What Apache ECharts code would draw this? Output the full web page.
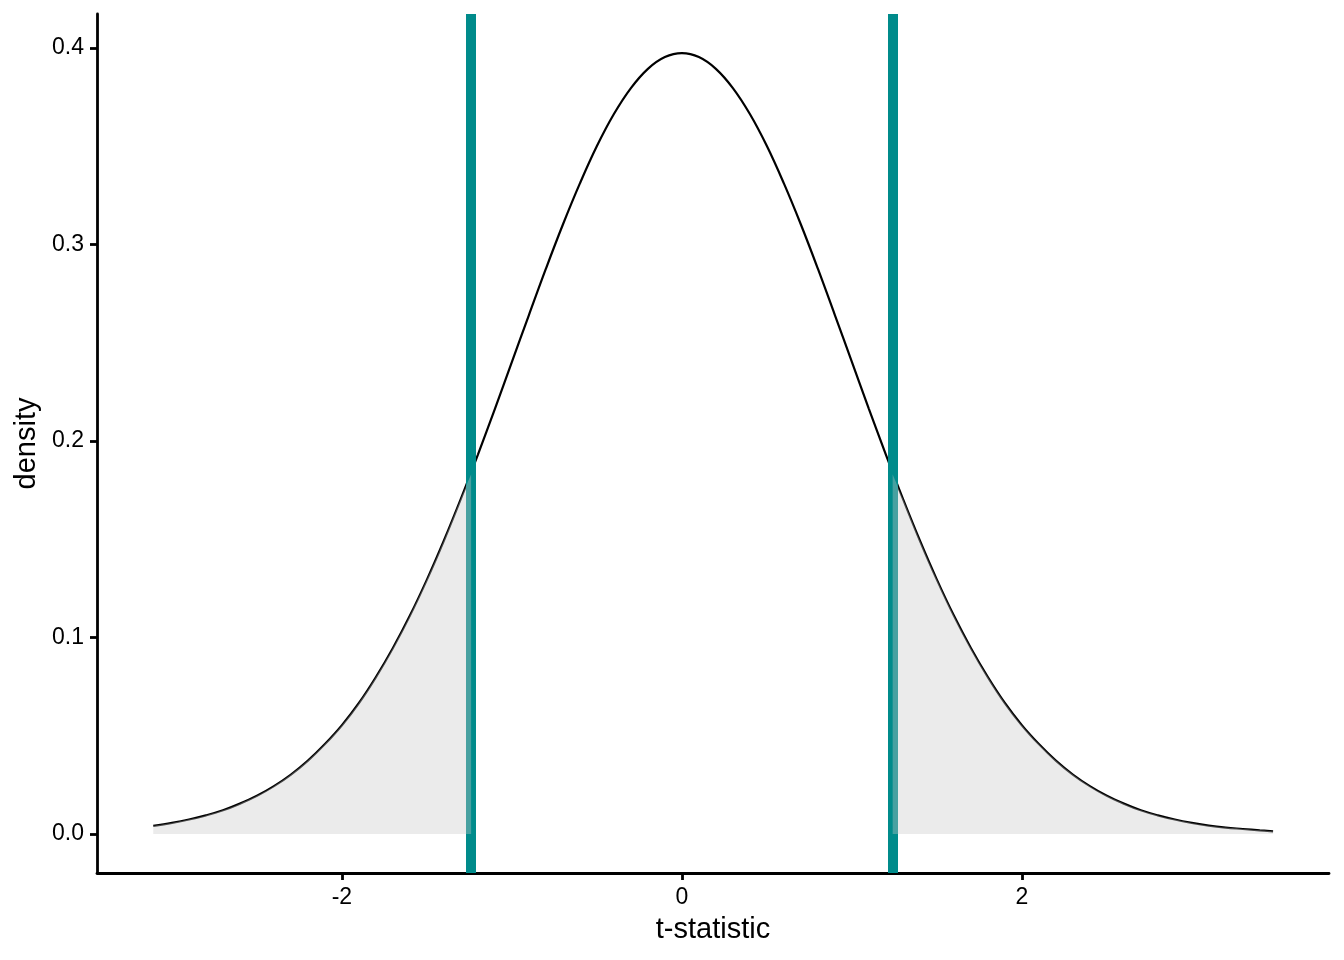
<!DOCTYPE html>
<html>
<head>
<meta charset="utf-8">
<script src="https://cdn.jsdelivr.net/npm/echarts@6/dist/echarts.min.js"></script>
<style>
html,body{margin:0;padding:0;background:#fff;}
#chart{width:1344px;height:960px;}
</style>
</head>
<body>
<div id="chart"></div>
<script>
// t-statistic grid and density values
var tStat = [-3.11,-3.0,-2.9,-2.8,-2.7,-2.6,-2.5,-2.4,-2.3,-2.2,-2.1,-2.0,-1.9,-1.8,-1.7,-1.6,-1.5,-1.4,-1.3,-1.2,-1.1,-1.0,-0.9,-0.8,-0.7,-0.6,-0.5,-0.4,-0.3,-0.2,-0.1,0.0,0.1,0.2,0.3,0.4,0.5,0.6,0.7,0.8,0.9,1.0,1.1,1.2,1.3,1.4,1.5,1.6,1.7,1.8,1.9,2.0,2.1,2.2,2.3,2.4,2.5,2.6,2.7,2.8,2.9,3.0,3.1,3.2,3.3,3.4,3.478];
var density = [0.0041,0.0056,0.0073,0.0094,0.0120,0.0154,0.0194,0.0243,0.0302,0.0373,0.0457,0.0553,0.0666,0.0798,0.0946,0.1111,0.1294,0.1493,0.1706,0.1930,0.2163,0.2402,0.2640,0.2876,0.3101,0.3310,0.3500,0.3663,0.3795,0.3893,0.3953,0.3973,0.3953,0.3893,0.3795,0.3663,0.3500,0.3310,0.3101,0.2876,0.2640,0.2402,0.2163,0.1930,0.1706,0.1493,0.1294,0.1111,0.0946,0.0798,0.0666,0.0553,0.0457,0.0373,0.0302,0.0243,0.0194,0.0154,0.0120,0.0094,0.0073,0.0056,0.0042,0.0032,0.0025,0.0018,0.0013];
// observed statistic (vertical lines) and density at the cut-offs
var cutoffs = [-1.24, 1.24];
var cutoffDensity = [0.183, 0.183];
var xTicks = [-2, 0, 2];
var yTicks = [0.0, 0.1, 0.2, 0.3, 0.4];

var curve = tStat.map(function (x, i) { return [x, density[i]]; });
var leftTail = curve.filter(function (p) { return p[0] < cutoffs[0]; }).concat([[cutoffs[0], cutoffDensity[0]]]);
var rightTail = [[cutoffs[1], cutoffDensity[1]]].concat(curve.filter(function (p) { return p[0] > cutoffs[1]; }));

var chart = echarts.init(document.getElementById('chart'), null, {renderer: 'canvas'});
var font = 'Liberation Sans, Arial, Helvetica, sans-serif';
var axisCommon = {
  axisLine: {show: true, onZero: false, lineStyle: {color: '#000', width: 2.8}},
  axisTick: {show: true, length: 7, lineStyle: {color: '#000', width: 2.8}},
  splitLine: {show: false},
  nameTextStyle: {color: '#000', fontSize: 29, fontFamily: font}
};
chart.setOption({
  animation: false,
  backgroundColor: '#fff',
  grid: {left: 97, right: 15, top: 14, bottom: 87, containLabel: false},
  xAxis: Object.assign({}, axisCommon, {
    type: 'value', min: -3.441, max: 3.807,
    name: 't-statistic', nameLocation: 'middle', nameGap: 42,
    axisTick: Object.assign({}, axisCommon.axisTick, {customValues: xTicks}),
    axisLabel: {customValues: xTicks, color: '#000', fontSize: 23, fontFamily: font, margin: 13,
      formatter: function (v) { return String(v); }}
  }),
  yAxis: Object.assign({}, axisCommon, {
    type: 'value', min: -0.0199, max: 0.4172,
    name: 'density', nameLocation: 'middle', nameGap: 55,
    axisTick: Object.assign({}, axisCommon.axisTick, {customValues: yTicks}),
    axisLabel: {customValues: yTicks, color: '#000', fontSize: 23, fontFamily: font, margin: 13,
      formatter: function (v) { return v.toFixed(1); }}
  }),
  series: [
    {
      type: 'line', data: curve, smooth: 0.4, symbol: 'none', z: 2,
      lineStyle: {color: '#000', width: 2.2},
      markLine: {
        silent: true, symbol: ['none', 'none'], label: {show: false},
        lineStyle: {color: '#008B8B', width: 10, type: 'solid'},
        data: cutoffs.map(function (c) { return {xAxis: c}; })
      }
    },
    {
      type: 'line', data: leftTail, smooth: 0.4, symbol: 'none', z: 5,
      lineStyle: {width: 0}, areaStyle: {color: 'rgba(200,200,200,0.36)', opacity: 1, origin: 0}
    },
    {
      type: 'line', data: rightTail, smooth: 0.4, symbol: 'none', z: 5,
      lineStyle: {width: 0}, areaStyle: {color: 'rgba(200,200,200,0.36)', opacity: 1, origin: 0}
    }
  ]
});
</script>
</body>
</html>
